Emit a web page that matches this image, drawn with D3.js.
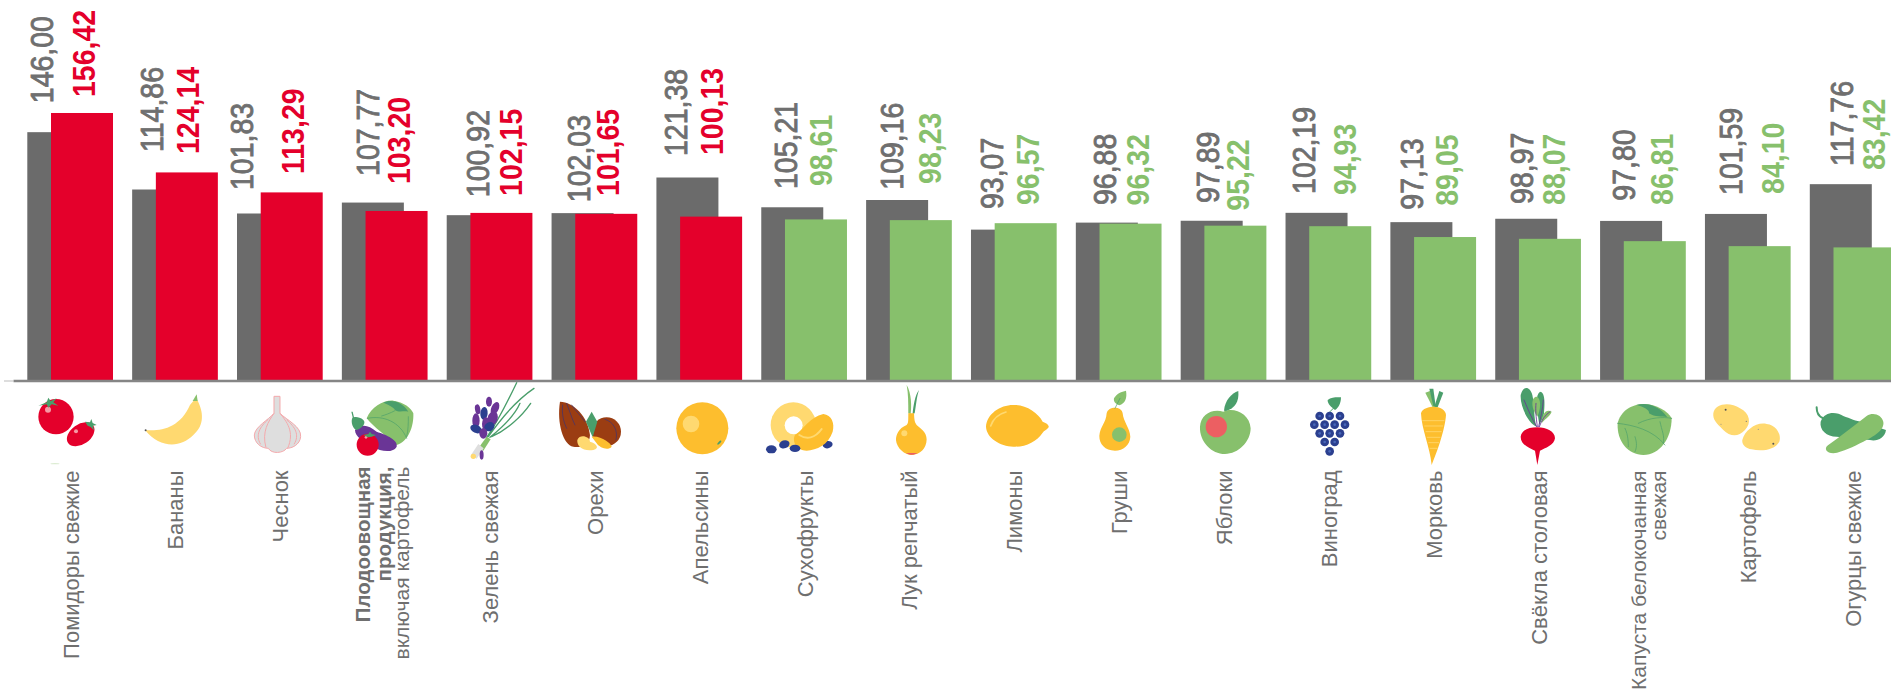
<!DOCTYPE html>
<html>
<head>
<meta charset="utf-8">
<script src="https://cdn.jsdelivr.net/npm/d3@7"></script>
<style>
html, body { margin: 0; padding: 0; background: #fff; overflow: hidden; }
text { font-family: "Liberation Sans", Arial, sans-serif; }
</style>
</head>
<body>
<svg id="chart" width="1891" height="695"></svg>
<script>
/// Data ///
var categories = ["Помидоры свежие", "Бананы", "Чеснок", "Плодоовощная продукция", "Зелень свежая", "Орехи",
  "Апельсины", "Сухофрукты", "Лук репчатый", "Лимоны", "Груши", "Яблоки",
  "Виноград", "Морковь", "Свёкла столовая", "Капуста белокочанная свежая", "Картофель", "Огурцы свежие"];
var prevValues = [146.00, 114.86, 101.83, 107.77, 100.92, 102.03, 121.38, 105.21, 109.16,
  93.07, 96.88, 97.89, 102.19, 97.13, 98.97, 97.80, 101.59, 117.76];
var currValues = [156.42, 124.14, 113.29, 103.20, 102.15, 101.65, 100.13, 98.61, 98.23,
  96.57, 96.32, 95.22, 94.93, 89.05, 88.07, 86.81, 84.10, 83.42];

/// Label placement, hand nudged in the original ///
var prevDx = [-29, -24, -38, -17, -12, -16, -24, -19, -17, -22, -14, -16.5, -25, -21.5, -16.5, -19.5, -17, -11];
var prevGap = [29, 37.5, 23.5, 26.6, 18, 11, 21.5, 18.3, 10.3, 20.6, 17.6, 17.8, 18.9, 12.5, 14.8, 20.2, 19, 18.2];
var currDx = [13.5, 12.8, 12.75, 13.3, 20.5, 12.6, 12.4, 16, 21, 13.2, 18.4, 13.5, 16, 13.5, 15, 18.7, 24.3, 21];
var currGap = [16, 18.4, 18.4, 27, 17, 17.9, 61.6, 33.4, 36.2, 18.2, 18.2, 15, 31.2, 31.3, 33.9, 36.2, 52.2, 77.4];

var GRAY = "#6b6b6b", TEXT = "#6f6f6f", RED = "#e4002b", GREEN = "#87c06c";
var DARK = "#4a9e6b", YEL = "#fdbe2e", PALE = "#ffd970", BLUE = "#2b3f8f", PURPLE = "#6a3596", SALMON = "#ec5f62";

var svg = d3.select("#chart");
var baseY = 381;

var x = d3.scaleBand().domain(categories).range([27.3, 1895.5]).paddingInner(0.1826).paddingOuter(0).align(0);
var y = d3.scaleLinear().domain([10.85, 160]).range([baseY, 106.4]);
var offset = 23.7, barW = 62;

function fmt(v) { return v.toFixed(2).replace(".", ","); }
function mid(c) { return x(c) + x.bandwidth() / 2; }
function currColor(i) { return currValues[i] > 100 ? RED : GREEN; }

/// Bars ///
svg.append("g").selectAll("rect").data(categories).enter().append("rect")
  .attr("x", function(d) { return x(d); })
  .attr("y", function(d, i) { return y(prevValues[i]); })
  .attr("width", barW)
  .attr("height", function(d, i) { return baseY - y(prevValues[i]); })
  .attr("fill", GRAY);

svg.append("g").selectAll("rect").data(categories).enter().append("rect")
  .attr("x", function(d) { return x(d) + offset; })
  .attr("y", function(d, i) { return y(currValues[i]); })
  .attr("width", barW)
  .attr("height", function(d, i) { return baseY - y(currValues[i]); })
  .attr("fill", function(d, i) { return currColor(i); });

/// Axis ///
var axis = svg.append("g").attr("transform", "translate(0," + baseY + ")")
  .call(d3.axisBottom(x).tickSize(0).tickFormat(""));
axis.select(".domain").attr("d", "M13.5,0H1891").attr("stroke", "#858585").attr("stroke-width", 2.4);
axis.append("line").attr("x1", 4).attr("x2", 13.5).attr("stroke", "#bbb").attr("stroke-width", 1);

/// Value labels ///
svg.append("g").selectAll("text").data(categories).enter().append("text")
  .attr("transform", function(d, i) {
    return "translate(" + (mid(d) + prevDx[i]) + "," + (y(prevValues[i]) - prevGap[i]) + ") rotate(-90) scale(1,1.12)";
  })
  .attr("dy", "0.36em")
  .attr("font-size", 28.5)
  .attr("stroke", TEXT)
  .attr("stroke-width", 0.8)
  .attr("fill", TEXT)
  .text(function(d, i) { return fmt(prevValues[i]); });

svg.append("g").selectAll("text").data(categories).enter().append("text")
  .attr("transform", function(d, i) {
    return "translate(" + (mid(d) + currDx[i]) + "," + (y(currValues[i]) - currGap[i]) + ") rotate(-90) scale(1,1.12)";
  })
  .attr("dy", "0.36em")
  .attr("font-size", 28.5)
  .attr("font-weight", "bold")
  .attr("fill", function(d, i) { return currColor(i); })
  .text(function(d, i) { return fmt(currValues[i]); });

/// Category labels ///
// text, dx from group centre, weight, font size, top of the line
var labelLines = {
  "Плодоовощная продукция": [["Плодоовощная", -21.7, "bold", 20.5, 466.5], ["продукция,", -0.7, "bold", 20.5, 466.5], ["включая картофель", 16.3, "normal", 21, 466.5]],
  "Капуста белокочанная свежая": [["Капуста белокочанная", -4.6, "normal", 21, 470.5], ["свежая", 15, "normal", 21, 470.5]]
};
categories.forEach(function(c) {
  var lines = labelLines[c] || [[c, 0.5, "normal", 22, 470.5]];
  lines.forEach(function(l) {
    svg.append("text")
      .attr("transform", "translate(" + (mid(c) + l[1]) + "," + l[4] + ") rotate(-90)")
      .attr("text-anchor", "end")
      .attr("dy", "0.36em")
      .attr("font-size", l[3])
      .attr("font-weight", l[2])
      .attr("fill", TEXT)
      .text(l[0]);
  });
});

/// Icons, drawn at 3x inside their groups ///
function circ(cx, cy, r, f) { return '<circle cx="' + cx + '" cy="' + cy + '" r="' + r + '" fill="' + f + '"/>'; }
function ell(cx, cy, rx, ry, rot, f) {
  return '<ellipse cx="' + cx + '" cy="' + cy + '" rx="' + rx + '" ry="' + ry + '" fill="' + f + '" transform="rotate(' + rot + ' ' + cx + ' ' + cy + ')"/>';
}
function fill(d, f) { return '<path d="' + d + '" fill="' + f + '"/>'; }
function line(d, s, w) { return '<path d="' + d + '" fill="none" stroke="' + s + '" stroke-width="' + w + '" stroke-linecap="round"/>'; }
function icons(ox, oy, markup) {
  svg.append("g").attr("transform", "translate(" + ox + "," + oy + ") scale(0.3333)").html(markup);
}

// tomatoes, banana, garlic
icons(20, 385,
  circ(108, 95, 53, RED) + circ(84, 74, 9, "#f59aa5") +
  fill("M55,62 L80,52 L85,38 L92,48 L110,40 L100,52 L115,62 L95,58 L85,68 L80,58 Z", DARK) +
  ell(182, 148, 46, 30, -35, RED) + circ(168, 139, 6, "#f59aa5") +
  fill("M195,110 L210,112 L214,102 L218,114 L230,120 L219,122 L222,136 L212,126 L203,122 Z", DARK) +
  ell(105, 236, 14, 2, 0, "#dcecd2") +
  fill("M375,135 C420,140 480,130 510,60 L520,48 L532,45 C550,80 555,120 520,150 C480,190 420,190 375,135 Z", PALE) +
  fill("M518,48 L530,28 L533,48 Z", GREEN) + circ(377, 136, 3, "#555") +
  '<g fill="#dedede" stroke="#f4a9ac" stroke-width="3">' +
  '<path d="M762,34 H780 V85 C800,105 845,125 842,155 C840,180 815,190 800,190 C790,205 755,208 745,190 C725,190 703,175 703,150 C705,125 745,105 762,85 Z"/>' +
  '<path d="M762,85 C745,110 725,140 738,188 M780,85 C800,110 825,140 803,190 M745,103 C720,125 705,150 722,178 M800,105 C825,125 840,150 822,178" fill="none"/>' +
  '</g>');

// produce mix, herbs, nuts
icons(340, 380,
  fill("M80,115 C95,80 130,60 160,62 C190,65 215,85 220,100 C222,140 205,185 170,195 C140,170 100,140 80,115 Z", GREEN) +
  fill("M130,68 C150,58 185,62 205,95 C190,92 175,98 165,90 C160,80 140,72 130,68 Z", DARK) +
  line("M82,115 C130,105 180,125 200,175 M165,92 C150,100 135,105 125,108 M205,110 C205,130 205,150 200,170", DARK, 2) +
  fill("M45,150 C65,130 85,135 110,155 C140,165 175,180 170,200 C160,220 120,215 100,200 C70,185 45,170 45,150 Z", PURPLE) +
  fill("M34,95 L38,112 C30,125 40,150 50,150 C65,145 80,130 70,120 C60,110 45,110 42,112 L38,95 Z", DARK) +
  circ(83, 194, 33, RED) + circ(78, 172, 4, "#f59aa5") +
  fill("M70,165 L85,162 L90,155 L95,162 L108,165 L95,170 L85,172 Z", DARK) +
  line("M440,172 C470,130 510,50 530,8 M445,170 C480,120 530,60 582,25 M450,172 C490,140 525,105 540,70 M455,170 C500,150 545,110 572,70", DARK, 4) +
  fill("M415,205 L440,170 L452,178 L430,212 Z", GREEN) +
  fill("M393,225 L415,192 L431,205 L410,236 Z", "#dedede") + circ(400, 229, 8, PALE) +
  ell(447, 65, 9, 15, 0, PURPLE) + ell(413, 88, 8, 15, -10, PURPLE) + ell(465, 85, 11, 20, 25, PURPLE) +
  ell(432, 100, 11, 19, 5, BLUE) + ell(408, 122, 11, 22, 0, PURPLE) + ell(458, 115, 15, 22, 15, PURPLE) +
  ell(438, 132, 12, 20, 0, PURPLE) + ell(408, 147, 18, 12, 25, BLUE) + ell(448, 140, 16, 13, -30, BLUE) +
  ell(430, 160, 12, 16, 0, PURPLE) + ell(425, 225, 6, 14, 0, PURPLE) +
  fill("M660,65 C700,65 745,110 750,165 C750,195 720,205 700,200 C670,195 650,130 660,65 Z", "#9b3d12") +
  line("M668,75 C665,100 670,125 680,145 M680,70 C690,95 695,115 705,135 M695,75 C710,95 720,105 735,125", "#3a3278", 2) +
  ell(800, 155, 43, 43, 0, "#9b3d12") +
  line("M795,118 C820,125 835,150 828,180", "#3a3278", 2) +
  fill("M755,95 L772,125 L758,172 L738,125 Z", DARK) +
  fill("M755,170 C780,165 815,190 815,200 C805,212 780,205 770,190 Z", YEL) +
  fill("M712,180 C720,160 750,170 750,185 C770,190 780,205 760,210 C730,215 710,200 712,180 Z", PALE));

// orange, dried fruit, onion
icons(660, 380,
  circ(127, 145, 78, YEL) + circ(93, 132, 25, PALE) + ell(178, 188, 3, 8, 45, DARK) +
  circ(400, 135, 68, PALE) + circ(401, 136, 27, "#fff") +
  ell(503, 194, 15, 11, -10, BLUE) +
  fill("M405,165 C430,150 450,110 490,102 C515,105 525,130 518,155 C505,195 470,210 440,212 C410,212 395,185 405,165 Z", YEL) +
  line("M418,165 C440,180 465,175 485,147", PALE, 6) +
  ell(334, 208, 16, 12, 0, BLUE) + ell(373, 193, 16, 12, -20, BLUE) + ell(405, 205, 16, 11, 0, BLUE) +
  fill("M740,15 C755,40 755,80 752,102 L745,100 C745,70 745,40 740,15 Z", GREEN) +
  fill("M777,30 C765,45 760,80 758,102 L764,100 C768,80 770,50 777,30 Z", DARK) +
  fill("M745,100 C745,125 745,130 740,135 C715,145 708,165 708,180 C710,205 735,225 755,225 C780,225 800,205 800,178 C800,155 780,145 770,135 C762,125 763,110 762,100 Z", YEL) +
  fill("M738,219 C750,226 762,226 772,219 Z", SALMON) + circ(733, 160, 9, PALE));

// lemon, pear, apple
icons(970, 380,
  fill("M48,140 C50,100 95,72 135,75 C170,75 205,100 218,125 C228,128 238,135 236,142 C230,150 222,152 218,158 C200,185 165,202 130,200 C90,198 50,175 48,140 Z", YEL) +
  line("M62,138 C70,115 85,102 108,96", PALE, 5) +
  fill("M410,100 C415,78 455,78 458,100 C460,125 480,145 481,170 C480,195 460,212 435,212 C405,212 388,192 388,168 C390,140 408,130 410,100 Z", YEL) +
  circ(448, 164, 22, GREEN) +
  fill("M432,55 C440,40 455,35 468,32 C472,55 465,70 448,76 C436,72 430,65 432,55 Z", GREEN) +
  line("M435,85 L450,55", DARK, 2) +
  fill("M690,140 C692,105 725,85 760,95 C790,80 840,100 842,145 C842,185 805,222 765,222 C725,222 688,185 690,140 Z", GREEN) +
  circ(739, 140, 32, SALMON) +
  fill("M762,92 C765,60 785,40 805,33 C808,65 795,85 768,93 Z", DARK));

// grapes, carrot
var grapes = [[89, 108], [119, 108], [150, 108], [73, 134], [104, 134], [134, 134], [165, 134],
  [89, 160], [119, 160], [150, 160], [104, 186], [134, 186], [119, 214]];
icons(1290, 380,
  grapes.map(function(g) { return circ(g[0], g[1], 13, BLUE) + circ(g[0], g[1], 4, "#4766b8"); }).join("") +
  line("M135,80 L120,95", DARK, 3) +
  fill("M113,60 C125,50 145,52 153,52 C153,70 145,85 135,90 C125,82 112,72 113,60 Z", DARK) +
  fill("M406,38 L420,33 L438,80 L428,82 Z", GREEN) + fill("M460,38 L448,33 L433,80 L443,82 Z", DARK) +
  fill("M418,26 L430,26 L437,78 L430,78 Z", DARK) +
  fill("M393,100 C395,85 420,80 430,80 C450,80 468,90 468,105 C465,150 440,220 425,255 C420,200 395,150 393,100 Z", YEL) +
  line("M398,122 H462 M404,138 H458 M408,155 H454 M412,172 H450 M416,188 H446 M420,205 H442", PALE, 2.5));

// beet, cabbage, potatoes, cucumbers
icons(1500, 380,
  fill("M110,140 C85,130 60,80 62,45 C70,15 90,20 97,45 C105,80 100,115 110,140 Z", DARK) +
  fill("M118,135 C110,80 105,45 120,35 C135,35 135,70 132,100 C130,115 120,130 118,135 Z", DARK) +
  fill("M112,110 C90,80 95,50 110,50 C125,55 122,90 112,110 Z", GREEN) +
  fill("M125,130 C125,100 140,85 155,95 C150,110 130,120 125,130 Z", GREEN) +
  line("M110,140 C95,115 85,90 72,60 M112,140 C108,110 106,90 108,70 M116,140 C122,110 128,90 130,60 M118,140 C125,120 135,105 150,95", PURPLE, 2.5) +
  fill("M62,170 C65,150 85,142 112,142 C140,142 165,155 165,175 C163,195 135,205 120,212 L112,255 L105,212 C90,205 62,195 62,170 Z", RED) +
  fill("M353,130 C360,95 395,72 430,72 C470,72 505,95 515,115 C515,175 480,225 430,225 C385,225 350,185 353,130 Z", GREEN) +
  fill("M410,75 C440,65 480,78 502,112 C485,108 465,112 447,100 C450,90 430,80 410,75 Z", DARK) +
  line("M353,130 C400,135 460,150 495,195 M415,130 C450,112 490,110 515,115 M405,170 C412,190 410,205 405,215 M480,125 C485,150 495,170 490,190 M375,145 C385,165 385,190 385,200", DARK, 2) +
  fill("M640,100 C645,70 690,65 720,85 C750,100 755,130 735,150 C715,172 690,170 670,150 C650,130 638,120 640,100 Z", PALE) +
  fill("M727,180 C735,150 770,125 800,132 C830,135 845,165 838,185 C825,210 785,215 755,208 C738,205 725,195 727,180 Z", PALE) +
  circ(677, 89, 3, "#555") + circ(739, 124, 2, "#777") + circ(663, 133, 1.5, "#888") + circ(820, 191, 3, "#555") + circ(775, 148, 2, "#999") +
  line("M950,82 C950,100 958,110 968,114", DARK, 6) +
  fill("M962,125 C975,92 1010,96 1030,108 C1050,115 1070,125 1085,125 L1158,150 C1155,175 1130,185 1110,180 L1010,170 C980,170 958,150 962,125 Z", DARK) +
  fill("M985,195 C1020,170 1060,140 1100,108 C1120,95 1145,105 1150,125 C1155,150 1120,170 1090,185 C1060,200 1030,215 1000,220 C980,220 970,205 985,195 Z", GREEN));
</script>
</body>
</html>
